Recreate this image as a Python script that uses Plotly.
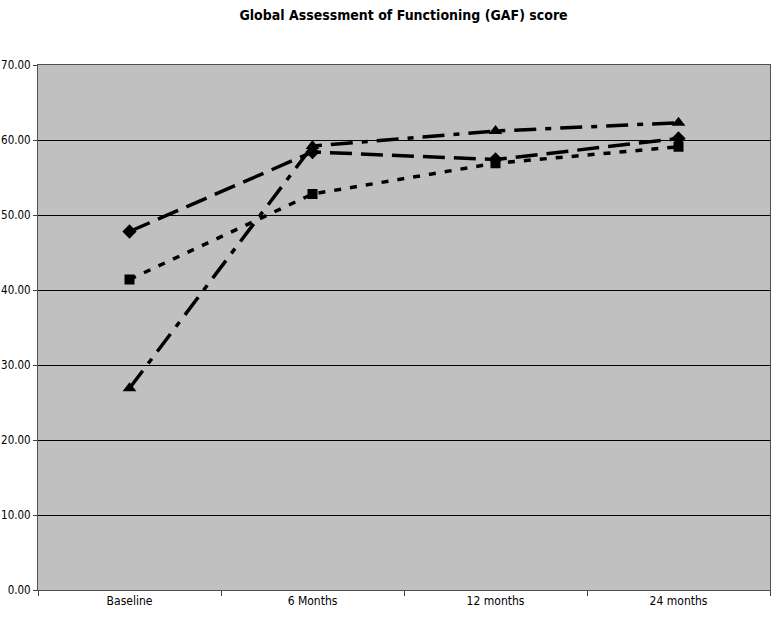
import plotly.graph_objects as go

categories = ["Baseline", "6 Months", "12 months", "24 months"]
series_diamond = [47.8, 58.4, 57.4, 60.2]
series_square = [41.4, 52.8, 56.9, 59.1]
series_triangle = [26.9, 59.2, 61.2, 62.3]
y_ticks = [0, 10, 20, 30, 40, 50, 60, 70]

FONT = "DejaVu Sans Condensed, Liberation Sans Narrow, Liberation Sans, Arial, sans-serif"

fig = go.Figure()
fig.add_trace(go.Scatter(
    x=categories, y=series_diamond, mode="lines+markers",
    line=dict(color="black", width=3.5, dash="22px,9px"),
    marker=dict(symbol="diamond", size=11, color="black"),
    showlegend=False))
fig.add_trace(go.Scatter(
    x=categories, y=series_square, mode="lines+markers",
    line=dict(color="black", width=3.5, dash="7px,9px"),
    marker=dict(symbol="square", size=10, color="black"),
    showlegend=False))
fig.add_trace(go.Scatter(
    x=categories, y=series_triangle, mode="lines+markers",
    line=dict(color="black", width=3.5, dash="22px,9px,6px,9px"),
    marker=dict(symbol="triangle-up", size=12, color="black"),
    showlegend=False))

fig.update_layout(
    width=776, height=620,
    margin=dict(l=38, r=6, t=65, b=30, autoexpand=False),
    paper_bgcolor="white", plot_bgcolor="#C0C0C0",
    font=dict(family=FONT, size=12, color="black"),
    title=dict(text="<b>Global Assessment of Functioning (GAF) score</b>",
               x=0.52, xanchor="center", y=0.983, yanchor="top",
               font=dict(family=FONT, size=14, color="black")),
)
fig.update_xaxes(
    type="category", range=[-0.5, 3.5], tickson="boundaries",
    ticks="outside", ticklen=5, tickcolor="#404040",
    showline=True, linecolor="#505050", linewidth=1, mirror=True,
    showgrid=False, automargin=False, tickfont=dict(size=12))
fig.update_yaxes(
    range=[0, 70], tickvals=y_ticks, tickformat=".2f",
    ticks="outside", ticklen=4, tickcolor="#404040", ticklabelstandoff=0,
    showline=True, linecolor="#505050", linewidth=1, mirror=True,
    showgrid=True, gridcolor="black", gridwidth=1,
    zeroline=False, automargin=False, tickfont=dict(size=11.5))

fig.write_html("out.html", config={"displayModeBar": False},
               post_script="document.body.style.margin='0';document.body.style.overflow='hidden';")
